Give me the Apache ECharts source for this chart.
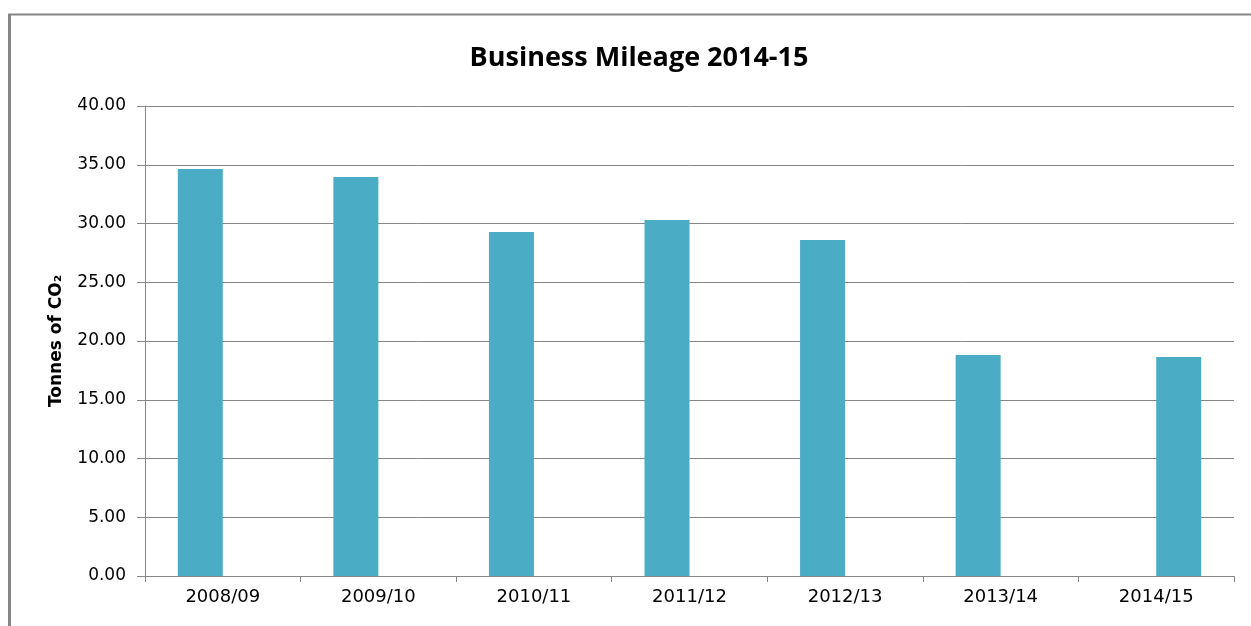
<!DOCTYPE html>
<html>
<head>
<meta charset="utf-8">
<script src="https://cdn.jsdelivr.net/npm/echarts@6/dist/echarts.min.js"></script>
<style>
  html, body { margin: 0; padding: 0; background: #fff; }
  #chart { width: 1251px; height: 626px; }
</style>
</head>
<body>
<div id="chart"></div>
<script>
// categories / values
var years = ['2008/09', '2009/10', '2010/11', '2011/12', '2012/13', '2013/14', '2014/15'];
// first series covers 2008/09 - 2013/14, the last year sits in a second series
var earlierYears = [34.64, 33.96, 29.28, 30.30, 28.60, 18.81, null];
var latestYear = [null, null, null, null, null, null, 18.64];
var yTicks = { min: 0, max: 40, interval: 5 };

var grey = '#868686';
var barColor = '#4bacc6';

var myChart = echarts.init(document.getElementById('chart'));

myChart.setOption({
  animation: false,
  title: {
    text: 'Business Mileage 2014-15',
    left: 634,
    textAlign: 'center',
    top: 40,
    textStyle: {
      fontFamily: 'Open Sans',
      fontWeight: 'bold',
      fontSize: 27,
      color: '#000'
    }
  },
  // outer chart frame
  graphic: [
    { type: 'line', shape: { x1: 9.5, y1: 14, x2: 9.5, y2: 626 }, style: { stroke: grey, lineWidth: 3 } },
    { type: 'line', shape: { x1: 8, y1: 14.5, x2: 1251, y2: 14.5 }, style: { stroke: grey, lineWidth: 2 } }
  ],
  grid: {
    left: 145,
    right: 17,
    top: 106,
    bottom: 50
  },
  xAxis: {
    type: 'category',
    data: years,
    axisLine: { lineStyle: { color: grey, width: 1 } },
    axisTick: { show: true, length: 6, lineStyle: { color: grey } },
    axisLabel: {
      margin: 12,
      fontFamily: 'DejaVu Sans',
      fontSize: 18,
      color: '#000'
    }
  },
  yAxis: {
    type: 'value',
    min: yTicks.min,
    max: yTicks.max,
    interval: yTicks.interval,
    name: 'Tonnes of CO₂',
    nameLocation: 'middle',
    nameRotate: 90,
    nameGap: 80,
    nameTextStyle: {
      fontFamily: 'DejaVu Sans',
      fontWeight: 'bold',
      fontSize: 17,
      color: '#000'
    },
    axisLine: { show: true, lineStyle: { color: grey, width: 1 } },
    axisTick: { show: true, inside: false, length: 8, lineStyle: { color: grey } },
    splitLine: { lineStyle: { color: grey, width: 1 } },
    axisLabel: {
      margin: 19,
      fontFamily: 'DejaVu Sans',
      fontSize: 17,
      color: '#000',
      formatter: function (v) {
        return v.toFixed(2);
      }
    }
  },
  series: [
    {
      name: 'earlier',
      type: 'bar',
      data: earlierYears,
      barWidth: 45,
      barGap: '0%',
      itemStyle: { color: barColor }
    },
    {
      name: 'latest',
      type: 'bar',
      data: latestYear,
      barWidth: 45,
      barGap: '0%',
      itemStyle: { color: barColor }
    }
  ]
});
</script>
</body>
</html>
